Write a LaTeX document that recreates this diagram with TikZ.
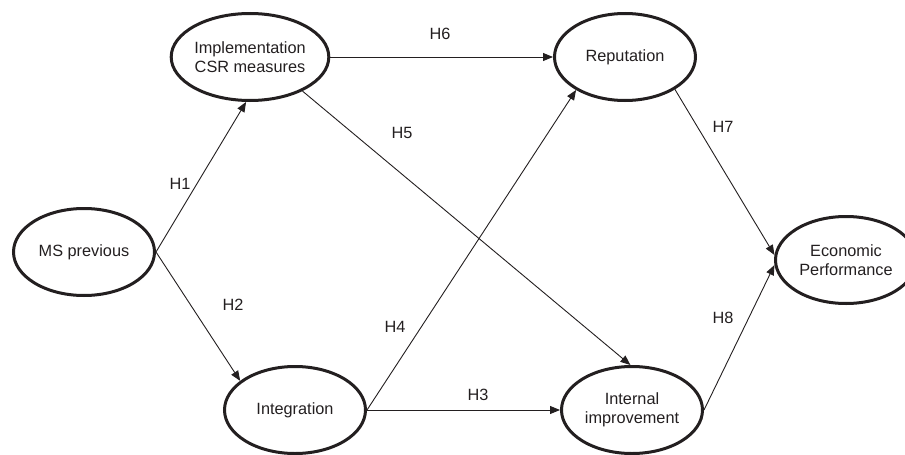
\documentclass[tikz,border=0pt]{standalone}
\usepackage{fontspec}
\setmainfont{Liberation Sans}
\usetikzlibrary{shapes.geometric,arrows.meta}
\definecolor{ink}{HTML}{231F20}
\begin{document}
\begin{tikzpicture}[x=1pt,y=-1pt,
  construct/.style={ellipse,draw=ink,line width=3pt,minimum width=141pt,minimum height=87pt,inner sep=0pt,align=center,text=ink,font=\fontsize{16.3pt}{19pt}\selectfont},
  link/.style={draw=ink,line width=0.9pt,-{Triangle[length=10pt,width=8pt]}},
  hyp/.style={text=ink,font=\fontsize{16.3pt}{19pt}\selectfont,inner sep=0pt}]
\useasboundingbox (0,0) rectangle (905,455);
\clip (0,0) rectangle (905,455);
\node[construct] (ms) at (84,252) {MS previous};
\node[construct] (impl) at (250,57) {Implementation\\CSR measures};
\node[construct] (integ) at (295,410) {Integration};
\node[construct] (rep) at (625,57) {Reputation};
\node[construct] (intimp) at (632,410) {Internal\\improvement};
\node[construct] (econ) at (846,260) {Economic\\Performance};
\draw[link] (ms.east) -- (impl.265);
\draw[link] (ms.east) -- (integ.152);
\draw[link] (impl.east) -- (rep.west);
\draw[link] (impl.-33) -- (intimp.92);
\draw[link] (integ.east) -- (rep.214);
\draw[link] (integ.east) -- (intimp.west);
\draw[link] (rep.-33) -- (econ.176);
\draw[link] (intimp.east) -- (econ.184);
\node[hyp] (h1) at (180,184) {H1};
\node[hyp] (h2) at (233,305) {H2};
\node[hyp] (h3) at (478,395) {H3};
\node[hyp] (h4) at (395,327) {H4};
\node[hyp] (h5) at (402,133) {H5};
\node[hyp] (h6) at (440,34) {H6};
\node[hyp] (h7) at (723,127) {H7};
\node[hyp] (h8) at (723,318) {H8};
\end{tikzpicture}
\end{document}
